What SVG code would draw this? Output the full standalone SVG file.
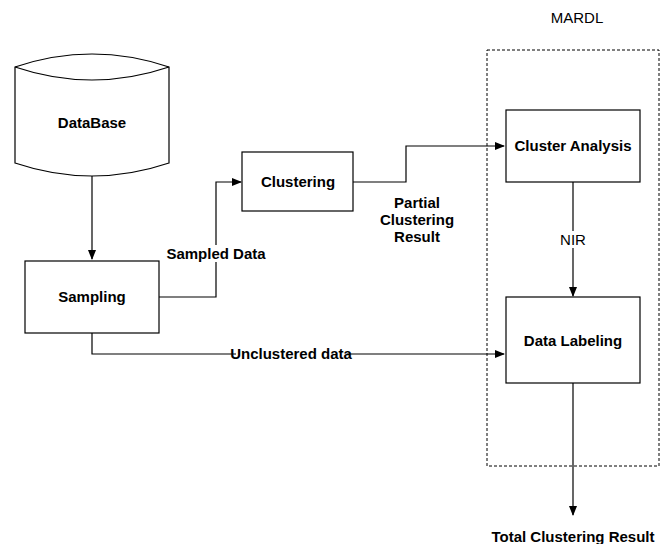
<svg xmlns="http://www.w3.org/2000/svg" width="668" height="544" viewBox="0 0 668 544">
<defs>
<marker id="arr" markerWidth="10" markerHeight="8" refX="9" refY="4" orient="auto" markerUnits="userSpaceOnUse">
<path d="M0,0 L10,4 L0,8 Z" fill="#000"/>
</marker>
<style>
.box{fill:#fff;stroke:#000;stroke-width:1.2}
.ln{fill:none;stroke:#000;stroke-width:1.2}
.b{font-family:"Liberation Sans",Arial,sans-serif;font-weight:bold;font-size:15px;fill:#000;text-anchor:middle}
.r{font-family:"Liberation Sans",Arial,sans-serif;font-size:15px;fill:#000;text-anchor:middle}
.lbl{fill:#fff}
</style>
</defs>
<rect width="668" height="544" fill="#fff"/>
<g id="mardl">
<rect x="487" y="50" width="172" height="416" fill="none" stroke="#000" stroke-width="1" stroke-dasharray="3,2"/>
<text class="r" x="577" y="23">MARDL</text>
</g>
<g id="connectors">
<path class="ln" d="M92,176 L92,259" marker-end="url(#arr)"/>
<path class="ln" d="M159,297 L216,297 L216,182 L241,182" marker-end="url(#arr)"/>
<path class="ln" d="M92,333 L92,354 L504,354" marker-end="url(#arr)"/>
<path class="ln" d="M353,182 L406,182 L406,146 L504,146" marker-end="url(#arr)"/>
<path class="ln" d="M573,182 L573,296" marker-end="url(#arr)"/>
<path class="ln" d="M573,383 L573,515" marker-end="url(#arr)"/>
<rect class="lbl" x="164" y="245" width="104" height="17"/>
<text class="b" x="216" y="259">Sampled Data</text>
<rect class="lbl" x="236" y="346" width="111" height="17"/>
<text class="b" x="291" y="359">Unclustered data</text>
<rect class="lbl" x="558" y="231" width="30" height="17"/>
<text class="r" x="573" y="245">NIR</text>
<text class="b" x="417" y="208">Partial</text>
<text class="b" x="417" y="225">Clustering</text>
<text class="b" x="417" y="242">Result</text>
<text class="b" x="573" y="542">Total Clustering Result</text>
</g>
<g id="database">
<path class="box" d="M15,67 Q92,41 169,67 L169,163 Q92,189 15,163 Z"/>
<path class="ln" d="M15,67 Q92,93 169,67"/>
<text class="b" x="92" y="128">DataBase</text>
</g>
<g id="sampling">
<rect class="box" x="25" y="261" width="134" height="72"/>
<text class="b" x="92" y="302">Sampling</text>
</g>
<g id="clustering">
<rect class="box" x="242" y="152" width="111" height="59"/>
<text class="b" x="298" y="187">Clustering</text>
</g>
<g id="cluster-analysis">
<rect class="box" x="506" y="110" width="134" height="72"/>
<text class="b" x="573" y="151">Cluster Analysis</text>
</g>
<g id="data-labeling">
<rect class="box" x="506" y="297" width="134" height="86"/>
<text class="b" x="573" y="346">Data Labeling</text>
</g>
</svg>
